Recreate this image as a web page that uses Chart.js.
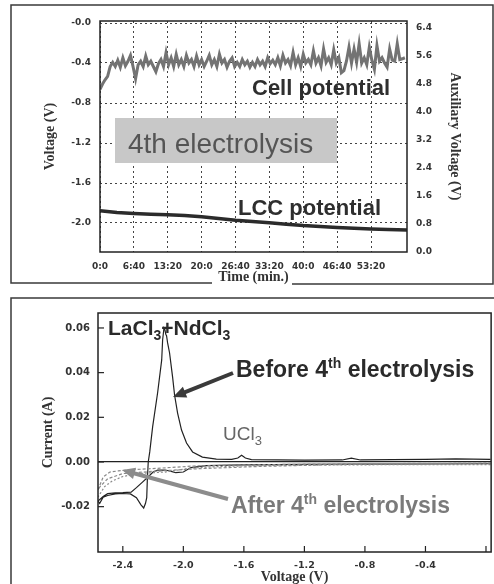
<!DOCTYPE html>
<html><head><meta charset="utf-8">
<script src="https://cdn.jsdelivr.net/npm/chart.js@4/dist/chart.umd.min.js"></script>
<style>
html,body{margin:0;padding:0;background:#fff;width:494px;height:584px;overflow:hidden}
canvas{position:absolute;left:0}
#c1{top:0}
#c2{top:290px}
</style></head><body>
<canvas id="c1" width="494" height="290"></canvas>
<canvas id="c2" width="494" height="294"></canvas>
<script>
// ---------- Top panel data (time in seconds) ----------
const timeTicks = [0,400,800,1200,1600,2000,2400,2800,3200];
const timeTickLabels = ['0:0','6:40','13:20','20:0','26:40','33:20','40:0','46:40','53:20'];
const voltageTicks = [0,-0.4,-0.8,-1.2,-1.6,-2.0];
const voltageTickLabels = ['-0.0','-0.4','-0.8','-1.2','-1.6','-2.0'];
const auxTicks = [0,0.8,1.6,2.4,3.2,4.0,4.8,5.6,6.4];

const cellTimes = [0,30,60,90,120,150,180,210,240,270,
 300,330,360,390,420,450,480,510,540,570,
 600,630,660,690,720,750,780,810,840,870,
 900,930,960,990,1020,1050,1080,1110,1140,1170,
 1200,1230,1260,1290,1320,1350,1380,1410,1440,1470,
 1500,1530,1560,1590,1620,1650,1680,1710,1740,1770,
 1800,1830,1860,1890,1920,1950,1980,2010,2040,2070,
 2100,2130,2160,2190,2220,2250,2280,2310,2340,2370,
 2400,2430,2460,2490,2520,2550,2580,2610,2640,2670,
 2700,2730,2760,2790,2820,2850,2880,2910,2940,2970,
 3000,3030,3060,3090,3120,3150,3180,3210,3240,3270,
 3300,3330,3360,3390,3420,3450,3480,3510,3540,3570,3600];
const cellPotential = [4.65,4.8,4.92,5.02,5.3,5.42,5.3,5.48,5.28,5.55,
 5.32,5.45,5.62,5.3,4.95,5.35,5.45,5.3,5.6,5.35,
 5.45,5.3,5.15,5.38,5.5,5.3,5.7,5.35,5.55,5.3,
 5.65,5.35,5.5,5.3,5.62,5.4,5.5,5.3,5.6,5.35,
 5.5,5.3,5.45,5.62,5.35,5.5,5.3,5.65,5.4,5.5,
 5.28,5.45,5.55,5.3,5.42,5.3,5.5,5.35,5.45,5.28,
 5.42,5.3,5.5,5.35,5.45,5.3,5.55,5.38,5.48,5.35,
 5.55,5.32,5.62,5.4,5.5,5.32,5.7,5.35,5.55,5.3,
 5.65,5.4,5.5,5.35,5.75,5.4,5.55,5.32,5.8,5.42,
 5.55,5.35,5.78,5.4,5.55,5.12,5.18,5.45,5.85,5.4,
 5.8,5.42,5.95,5.4,5.55,5.35,5.85,5.48,5.22,5.9,
 5.45,5.55,5.4,5.28,5.8,5.48,5.45,5.95,5.5,5.52,5.55];

const lccTimes = [0,200,400,600,800,1000,1200,1400,1600,1800,2000,2200,2400,2600,2800,3000,3200,3400,3625];
const lccPotential = [-1.878,-1.895,-1.905,-1.912,-1.918,-1.925,-1.937,-1.955,-1.972,-1.985,-1.997,-2.012,-2.026,-2.036,-2.045,-2.052,-2.06,-2.066,-2.07];

// ---------- Bottom panel data (CV) ----------
const cvTicks = [-2.4,-2.0,-1.6,-1.2,-0.8,-0.4,0.0];
const currentTicks = [-0.02,0.0,0.02,0.04,0.06];

const beforeVoltage = [0.03,-0.4,-0.8,-1.2,-1.6,-1.85,-1.95,-2.0,-2.05,-2.08,-2.12,-2.17,-2.2,-2.23,-2.27,-2.31,-2.345,-2.4,-2.45,-2.5,-2.53,-2.564,
 -2.553,-2.53,-2.5,-2.45,-2.4,-2.35,-2.31,-2.28,-2.262,-2.25,-2.242,-2.238,-2.232,-2.222,-2.203,-2.17,-2.143,-2.137,-2.128,-2.122,-2.116,-2.111,-2.104,-2.091,-2.071,-2.058,-2.038,-2.012,-1.979,-1.939,-1.874,-1.782,-1.68,-1.64,-1.615,-1.59,-1.55,-1.2,-0.95,-0.89,-0.83,-0.4,-0.2,0.03];
const beforeCurrent = [-0.0008,-0.0009,-0.001,-0.0011,-0.0013,-0.0016,-0.0025,-0.0045,-0.0048,-0.0042,-0.0036,-0.0036,-0.0045,-0.0065,-0.009,-0.0115,-0.0135,-0.0137,-0.0138,-0.0142,-0.0155,-0.0175,
 -0.0185,-0.0158,-0.015,-0.0143,-0.0141,-0.0143,-0.016,-0.0192,-0.0206,-0.0185,-0.016,-0.008,0.0,0.0045,0.0157,0.031,0.0457,0.0546,0.06,0.0592,0.0572,0.0565,0.0533,0.0488,0.038,0.030,0.0219,0.0143,0.0085,0.0045,0.0022,0.0013,0.0012,0.0018,0.003,0.0018,0.0011,0.0008,0.0009,0.0017,0.0009,0.0012,0.0014,0.0012];

const afterAVoltage = [0.03,-0.4,-0.8,-1.2,-1.6,-1.93,-2.14,-2.37,-2.43,-2.485,-2.53,-2.564,-2.55,-2.5,-2.4,-2.2,-1.9,-1.5,-1.0,-0.5,0.03];
const afterACurrent = [-0.0005,-0.0006,-0.0008,-0.001,-0.0013,-0.0018,-0.0027,-0.0036,-0.004,-0.0045,-0.0067,-0.0125,-0.011,-0.0075,-0.0052,-0.0042,-0.003,-0.002,-0.0012,-0.0007,-0.0004];
const afterBVoltage = [0.03,-0.5,-1.0,-1.5,-1.75,-1.95,-2.12,-2.21,-2.3,-2.4,-2.47,-2.52,-2.564];
const afterBCurrent = [-0.0012,-0.0012,-0.0013,-0.0016,-0.002,-0.0027,-0.0045,-0.0048,-0.0052,-0.0065,-0.0085,-0.011,-0.0157];

// ---------- helpers ----------
const SANS = '"Liberation Sans", Arial, sans-serif';
const TICKFONT = {family:'"DejaVu Sans", sans-serif', weight:'bold', size:9};
const TITLEFONT = {family:'"Liberation Serif", "Times New Roman", serif', weight:'bold', size:14};
const pts = (xs, ys) => xs.map((x,i)=>({x:x, y:ys[i]}));
const setTicks = arr => s => { s.ticks = arr.map(v=>({value:v})); };
const near = (a,b) => Math.abs(a-b) < 1e-9;

function textRuns(c, x, y, parts, weight){
  for (const [t, size, dy] of parts){
    c.font = `${weight} ${size}px ${SANS}`;
    c.fillText(t, x, y + dy);
    x += c.measureText(t).width;
  }
}
function arrow(c, x1, y1, x2, y2, color, w, head){
  const a = Math.atan2(y2-y1, x2-x1), ca = Math.cos(a), sa = Math.sin(a);
  c.strokeStyle = color; c.fillStyle = color; c.lineWidth = w; c.lineCap = 'butt';
  c.beginPath(); c.moveTo(x1,y1); c.lineTo(x2-ca*head*0.8, y2-sa*head*0.8); c.stroke();
  c.beginPath(); c.moveTo(x2,y2);
  c.lineTo(x2-head*ca+head*0.45*sa, y2-head*sa-head*0.45*ca);
  c.lineTo(x2-head*ca-head*0.45*sa, y2-head*sa+head*0.45*ca);
  c.closePath(); c.fill();
}
const whiteBg = {id:'whiteBg', beforeDraw(ch){ const c=ch.ctx; c.save(); c.fillStyle='#fff'; c.fillRect(0,0,ch.width,ch.height); c.restore(); }};
const frame = {id:'frame', afterDatasetsDraw(ch){ const c=ch.ctx, a=ch.chartArea; c.save(); c.strokeStyle='#222'; c.lineWidth=1.5; c.strokeRect(a.left, a.top, a.right-a.left, a.bottom-a.top); c.restore(); }};

// ---------- Top chart ----------
const topDecor = {id:'topDecor', afterDraw(ch){
  const c = ch.ctx; c.save();
  c.strokeStyle = '#3a3a3a'; c.lineWidth = 1.5;
  c.beginPath(); c.moveTo(212,283); c.lineTo(11,283); c.lineTo(11,5); c.lineTo(493,5); c.lineTo(493,284); c.lineTo(292,284); c.stroke();
  c.fillStyle = '#c8c8c8'; c.fillRect(115,118,222,45);
  c.fillStyle = '#555'; c.textBaseline = 'alphabetic';
  c.font = `28px ${SANS}`; c.fillText('4th electrolysis', 128, 153);
  c.fillStyle = '#2e2e2e'; c.font = `bold 22px ${SANS}`;
  c.fillText('Cell potential', 252, 95);
  c.fillText('LCC potential', 238, 215);
  c.restore();
}};

new Chart(document.getElementById('c1'), {
  type: 'line',
  data: {datasets: [
    {label:'Cell potential', data: pts(cellTimes, cellPotential), yAxisID:'yAux', borderColor:'#737373', borderWidth:3, pointRadius:0, tension:0},
    {label:'LCC potential', data: pts(lccTimes, lccPotential), yAxisID:'y', borderColor:'#2b2b2b', borderWidth:3.5, pointRadius:0, tension:0}
  ]},
  options: {
    responsive:false, animation:false, devicePixelRatio:1,
    layout:{padding:{left:38, top:21, right:0, bottom:0}},
    plugins:{legend:{display:false}, tooltip:{enabled:false}},
    scales:{
      x:{type:'linear', min:0, max:3625, afterBuildTicks:setTicks(timeTicks), afterFit:s=>{s.height=38;},
         ticks:{callback:v=>timeTickLabels[timeTicks.findIndex(t=>near(t,v))], font:TICKFONT, color:'#333', padding:9, maxRotation:0, autoSkip:false},
         grid:{color:'#444', lineWidth:1, drawTicks:false}, border:{display:false, dash:[2,3]},
         title:{display:true, text:'Time (min.)', font:TITLEFONT, color:'#333', padding:{top:0, bottom:4}}},
      y:{position:'left', min:-2.29, max:0.02, afterBuildTicks:setTicks(voltageTicks), afterFit:s=>{s.width=62;},
         ticks:{callback:v=>voltageTickLabels[voltageTicks.findIndex(t=>near(t,v))], font:TICKFONT, color:'#333', padding:9},
         grid:{color:'#444', lineWidth:1, drawTicks:false}, border:{display:false, dash:[2,3]},
         title:{display:true, text:'Voltage (V)', font:TITLEFONT, color:'#333', padding:{top:3.6, bottom:0}}},
      yAux:{position:'right', min:0, max:6.6, afterBuildTicks:setTicks(auxTicks), afterFit:s=>{s.width=87;},
         ticks:{callback:v=>v.toFixed(1), font:TICKFONT, color:'#333', padding:9},
         grid:{display:false, drawTicks:false}, border:{display:false},
         title:{display:true, text:'Auxiliary Voltage (V)', font:TITLEFONT, color:'#333', padding:{top:30.6, bottom:0}}}
    }
  },
  plugins:[whiteBg, frame, topDecor]
});

// ---------- Bottom chart ----------
const bottomDecor = {id:'bottomDecor', afterDraw(ch){
  const c = ch.ctx, a = ch.chartArea; c.save();
  c.strokeStyle = '#222'; c.lineWidth = 1.2;
  const xs = ch.scales.x, ys = ch.scales.y;
  xs.ticks.forEach(t=>{ const p = xs.getPixelForValue(t.value); c.beginPath(); c.moveTo(p, a.bottom); c.lineTo(p, a.bottom-6); c.stroke(); });
  ys.ticks.forEach(t=>{ const p = ys.getPixelForValue(t.value); c.beginPath(); c.moveTo(a.left, p); c.lineTo(a.left+6, p); c.stroke(); });
  c.strokeStyle = '#3a3a3a'; c.lineWidth = 1.5;
  c.beginPath(); c.moveTo(11,294); c.lineTo(11,8); c.lineTo(494,8); c.stroke();
  c.textBaseline = 'alphabetic';
  c.fillStyle = '#2a2a2a';
  textRuns(c, 108, 45, [['LaCl',21,0],['3',14,5],['+NdCl',21,0],['3',14,5]], 'bold');
  textRuns(c, 236, 87, [['Before 4',23,0],['th',14,-9],[' electrolysis',23,0]], 'bold');
  c.fillStyle = '#7a7a7a';
  textRuns(c, 231, 223, [['After 4',23,0],['th',14,-9],[' electrolysis',23,0]], 'bold');
  c.fillStyle = '#666';
  textRuns(c, 223, 150, [['UCl',19,0],['3',13,5]], 'normal');
  arrow(c, 233, 83, 173, 107, '#3a3a3a', 4, 13);
  arrow(c, 228, 209, 122, 180, '#8c8c8c', 4, 13);
  c.restore();
}};

new Chart(document.getElementById('c2'), {
  type: 'scatter',
  data: {datasets: [
    {label:'After A', data: pts(afterAVoltage, afterACurrent), showLine:true, borderColor:'#8a8a8a', borderWidth:1.2, borderDash:[3,2], pointRadius:0},
    {label:'After B', data: pts(afterBVoltage, afterBCurrent), showLine:true, borderColor:'#8a8a8a', borderWidth:1.2, borderDash:[2,2], pointRadius:0},
    {label:'Before', data: pts(beforeVoltage, beforeCurrent), showLine:true, borderColor:'#222', borderWidth:1.2, pointRadius:0}
  ]},
  options: {
    responsive:false, animation:false, devicePixelRatio:1,
    layout:{padding:{left:35, top:23, right:1, bottom:0}},
    plugins:{legend:{display:false}, tooltip:{enabled:false}},
    scales:{
      x:{type:'linear', min:-2.564, max:0.034, afterBuildTicks:setTicks(cvTicks), afterFit:s=>{s.height=32;},
         ticks:{callback:v=>near(v,0)?'':v.toFixed(1), font:{...TICKFONT, size:9.5}, color:'#333', padding:8, maxRotation:0, autoSkip:false},
         grid:{display:false, drawTicks:false}, border:{display:false},
         title:{display:true, text:'Voltage (V)', font:{...TITLEFONT, lineHeight:1}, color:'#333', padding:{top:0, bottom:0}}},
      y:{min:-0.0403, max:0.0667, afterBuildTicks:setTicks(currentTicks), afterFit:s=>{s.width=63;},
         ticks:{callback:v=>v.toFixed(2), font:{...TICKFONT, size:10}, color:'#333', padding:8},
         grid:{color:ctx=> (ctx.tick && near(ctx.tick.value,0)) ? '#222' : 'rgba(0,0,0,0)', lineWidth:1.2, drawTicks:false}, border:{display:false},
         title:{display:true, text:'Current (A)', font:TITLEFONT, color:'#333', padding:{top:4.6, bottom:0}}}
    }
  },
  plugins:[whiteBg, frame, bottomDecor]
});
</script>
</body></html>
